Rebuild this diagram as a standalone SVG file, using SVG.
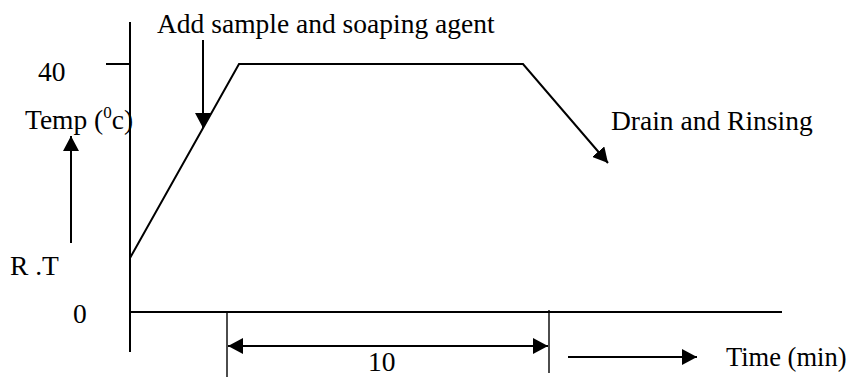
<svg xmlns="http://www.w3.org/2000/svg" width="851" height="378" viewBox="0 0 851 378">
<style>
text{font-family:"Liberation Serif","Times New Roman",serif;font-size:27.5px;fill:#000}
.ax{stroke:#000;stroke-width:2;fill:none}
.thin{stroke:#000;stroke-width:1.4;fill:none}
</style>
<defs>
<marker id="ah" markerUnits="userSpaceOnUse" markerWidth="16" markerHeight="16" refX="15" refY="8" orient="auto" viewBox="0 0 16 16">
<path d="M0,0 L15,8 L0,16 z" fill="#000"/>
</marker>
<marker id="as" markerUnits="userSpaceOnUse" markerWidth="16" markerHeight="16" refX="1" refY="8" orient="auto" viewBox="0 0 16 16">
<path d="M16,0 L1,8 L16,16 z" fill="#000"/>
</marker>
</defs>
<g id="axes">
<line class="ax" x1="130" y1="22" x2="130" y2="352"/>
<line class="ax" x1="106" y1="64" x2="131" y2="64"/>
<line class="ax" x1="131" y1="312" x2="782" y2="312"/>
</g>
<g id="labels">
<text x="38" y="81">40</text>
<text x="25" y="129">Temp (<tspan font-size="17" dy="-11">0</tspan><tspan dy="11">c)</tspan></text>
<text x="10" y="275">R .T</text>
<text x="73" y="323">0</text>
<text x="157" y="33">Add sample and soaping agent</text>
<text x="611" y="130">Drain and Rinsing</text>
<text x="368" y="371">10</text>
<text x="726" y="366" style="font-size:26.5px">Time (min)</text>
</g>
<g id="connectors">
<polyline class="ax" points="130,258 239,64 523,64 608,163" marker-end="url(#ah)"/>
<line class="ax" x1="203" y1="40" x2="203" y2="128" marker-end="url(#ah)"/>
<line class="ax" x1="71" y1="243" x2="71" y2="136" marker-end="url(#ah)"/>
<line class="thin" x1="227" y1="312" x2="227" y2="377"/>
<line class="thin" x1="549" y1="310" x2="549" y2="373"/>
<line class="ax" x1="228" y1="346" x2="548" y2="346" marker-start="url(#as)" marker-end="url(#ah)"/>
<line class="ax" x1="568" y1="357" x2="697" y2="357" marker-end="url(#ah)"/>
</g>
</svg>
